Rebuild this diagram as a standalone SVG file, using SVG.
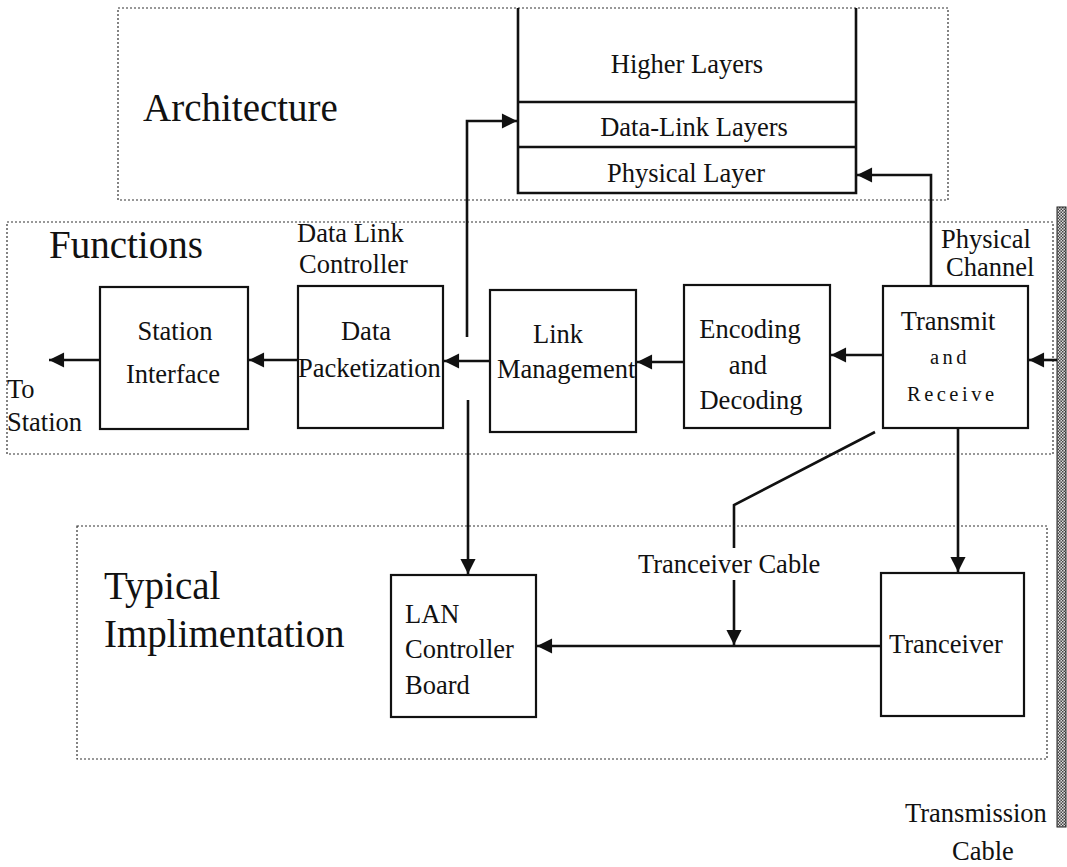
<svg xmlns="http://www.w3.org/2000/svg" width="1067" height="867" viewBox="0 0 1067 867">
  <style>
    text { font-family: "Liberation Serif", "Times New Roman", serif; fill: #111; }
    .big { font-size: 39px; }
    .lbl { font-size: 26.5px; }
    .sp { font-size: 20.5px; letter-spacing: 3.5px; }
    .mid { text-anchor: middle; }
    .zone { fill: none; stroke: #333; stroke-width: 1.2; stroke-dasharray: 2 2; }
    .box { fill: #fff; stroke: #111; stroke-width: 2.2; }
    .wire { fill: none; stroke: #111; stroke-width: 2.6; }
    .arr { fill: none; stroke: #111; stroke-width: 2.6; marker-end: url(#head); }
  </style>
  <defs>
    <marker id="head" viewBox="0 0 10 10" refX="10" refY="5" markerWidth="6.6" markerHeight="5.8" markerUnits="strokeWidth" orient="auto">
      <path d="M0,0 L10,5 L0,10 z" fill="#111"/>
    </marker>
    <pattern id="hatch" width="3" height="3" patternUnits="userSpaceOnUse">
      <rect width="3" height="3" fill="#ddd"/>
      <rect width="1.5" height="1.5" fill="#444"/>
      <rect x="1.5" y="1.5" width="1.5" height="1.5" fill="#444"/>
    </pattern>
  </defs>

  <rect width="1067" height="867" fill="#fff"/>

  <!-- dotted zones and their titles -->
  <g id="zones">
    <rect class="zone" x="118" y="8" width="830" height="192"/>
    <rect class="zone" x="7" y="222" width="1046" height="232"/>
    <rect class="zone" x="77" y="526" width="970" height="233"/>
    <text class="big" x="143" y="121">Architecture</text>
    <text class="big" x="49" y="258">Functions</text>
    <text class="big" x="104" y="599">Typical</text>
    <text class="big" x="104" y="647">Implimentation</text>
  </g>

  <!-- layer stack -->
  <g id="layers">
    <path class="wire" d="M518,8 V193 H856 V8" stroke-width="2.2"/>
    <line class="wire" x1="518" y1="102" x2="856" y2="102" stroke-width="2.2"/>
    <line class="wire" x1="518" y1="147" x2="856" y2="147" stroke-width="2.2"/>
    <text class="lbl mid" x="687" y="73">Higher Layers</text>
    <text class="lbl mid" x="694" y="136">Data-Link Layers</text>
    <text class="lbl mid" x="686" y="182">Physical Layer</text>
  </g>

  <!-- transmission cable -->
  <g id="cable">
    <rect x="1057" y="207" width="9" height="620" fill="url(#hatch)" stroke="#222" stroke-width="1"/>
    <text class="lbl" x="905" y="822">Transmission</text>
    <text class="lbl" x="952" y="860">Cable</text>
  </g>

  <g id="station-interface">
    <rect class="box" x="100" y="287" width="148" height="142"/>
    <text class="lbl mid" x="175" y="340">Station</text>
    <text class="lbl mid" x="173" y="383">Interface</text>
    <text class="lbl" x="7" y="398">To</text>
    <text class="lbl" x="7" y="431">Station</text>
  </g>

  <g id="data-packetization">
    <text class="lbl" x="297" y="242">Data Link</text>
    <text class="lbl" x="299" y="273">Controller</text>
    <rect class="box" x="298" y="286" width="145" height="142"/>
    <text class="lbl mid" x="366" y="340">Data</text>
    <text class="lbl" x="298" y="377">Packetization</text>
  </g>

  <g id="link-management">
    <rect class="box" x="490" y="290" width="146" height="142"/>
    <text class="lbl mid" x="558" y="343">Link</text>
    <text class="lbl" x="497" y="378">Management</text>
  </g>

  <g id="encoding">
    <rect class="box" x="684" y="285" width="146" height="143"/>
    <text class="lbl mid" x="750" y="338">Encoding</text>
    <text class="lbl mid" x="748" y="374">and</text>
    <text class="lbl mid" x="751" y="409">Decoding</text>
  </g>

  <g id="transmit-receive">
    <text class="lbl" x="941" y="248">Physical</text>
    <text class="lbl" x="946" y="276">Channel</text>
    <rect class="box" x="883" y="286" width="145" height="142"/>
    <text class="lbl mid" x="948" y="330">Transmit</text>
    <text class="sp" x="930" y="364">and</text>
    <text class="sp" x="907" y="401">Receive</text>
  </g>

  <g id="lan-board">
    <rect class="box" x="391" y="575" width="145" height="142"/>
    <text class="lbl" x="405" y="623">LAN</text>
    <text class="lbl" x="405" y="658">Controller</text>
    <text class="lbl" x="405" y="694">Board</text>
  </g>

  <g id="tranceiver">
    <rect class="box" x="881" y="573" width="143" height="143"/>
    <text class="lbl" x="889" y="653">Tranceiver</text>
    <text class="lbl" x="638" y="573">Tranceiver Cable</text>
  </g>

  <!-- connectors -->
  <g id="connectors">
    <path class="arr" d="M1057,360 H1029"/>
    <path class="arr" d="M883,355 H831"/>
    <path class="arr" d="M684,362 H637"/>
    <path class="arr" d="M490,361 H444"/>
    <path class="arr" d="M298,360 H249"/>
    <path class="arr" d="M100,360 H49"/>
    <path class="arr" d="M467,337 V121 H517"/>
    <path class="arr" d="M468,400 V574"/>
    <path class="arr" d="M931,286 V175 H857"/>
    <path class="arr" d="M958,428 V572"/>
    <path class="wire" d="M875,432 L734,505 V548"/>
    <path class="arr" d="M734,580 V645"/>
    <path class="arr" d="M881,646 H537"/>
  </g>
</svg>
